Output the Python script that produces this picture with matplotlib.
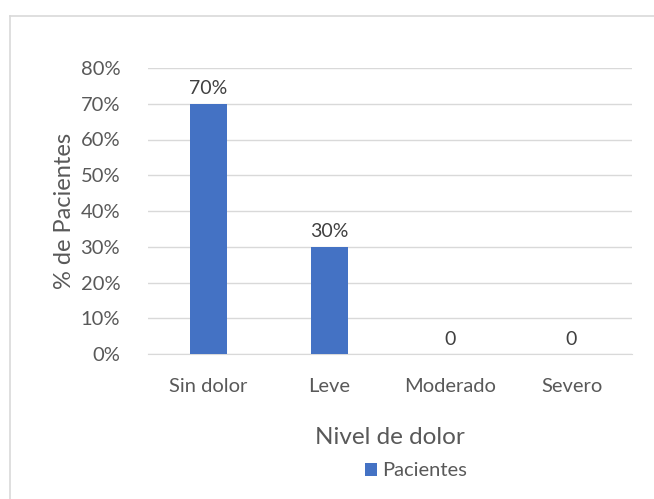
import matplotlib.pyplot as plt
from matplotlib.lines import Line2D
from matplotlib.ticker import PercentFormatter

categorias = ['Sin dolor', 'Leve', 'Moderado', 'Severo']
pacientes = [0.70, 0.30, 0.0, 0.0]
etiquetas = ['70%', '30%', '0', '0']
yticks = [0, 0.1, 0.2, 0.3, 0.4, 0.5, 0.6, 0.7, 0.8]

plt.rcParams['font.family'] = ['Lato', 'DejaVu Sans']
gris = '#595959'

fig = plt.figure(figsize=(6.54, 4.99), dpi=100)
# Excel-like chart border: only the left and top edges show in the crop
bx, by = 9.5/654, 1 - 15.5/499
fig.lines.append(Line2D([bx, bx], [0, by], transform=fig.transFigure, color='#d9d9d9', linewidth=1.2))
fig.lines.append(Line2D([bx, 1], [by, by], transform=fig.transFigure, color='#d9d9d9', linewidth=1.2))

ax = fig.add_axes([148/654, 1 - 354/499, 484/654, 286/499])
x = range(len(categorias))
ax.bar(x, pacientes, width=0.31, color='#4472C4', zorder=3, label='Pacientes')

for xi, v, t in zip(x, pacientes, etiquetas):
    ax.text(xi, v + 0.018, t, ha='center', va='bottom', fontsize=14, color='#404040')

ax.set_ylim(0, 0.8)
ax.set_xlim(-0.5, 3.5)
ax.set_yticks(yticks)
ax.yaxis.set_major_formatter(PercentFormatter(1.0, decimals=0))
ax.set_xticks(list(x))
ax.set_xticklabels(categorias)
ax.grid(axis='y', color='#d9d9d9', linewidth=1, zorder=0)
for s in ['top', 'right', 'left']:
    ax.spines[s].set_visible(False)
ax.spines['bottom'].set_color('#d9d9d9')
ax.tick_params(axis='both', length=0, labelsize=14.5, labelcolor=gris)
ax.tick_params(axis='x', pad=17.5)
ax.tick_params(axis='y', pad=20)

ax.set_ylabel('% de Pacientes', fontsize=17, color=gris, labelpad=4)
fig.text(390/654, 1 - 438/499, 'Nivel de dolor', ha='center', va='center', fontsize=17.5, color=gris)

leg = ax.legend(loc='center', bbox_to_anchor=(416/654, 1 - 471/499), bbox_transform=fig.transFigure,
                frameon=False, fontsize=14.5, handlelength=0.6, handleheight=0.6, handletextpad=0.25)
for t in leg.get_texts():
    t.set_color(gris)

fig.savefig('out.png', dpi=100)
